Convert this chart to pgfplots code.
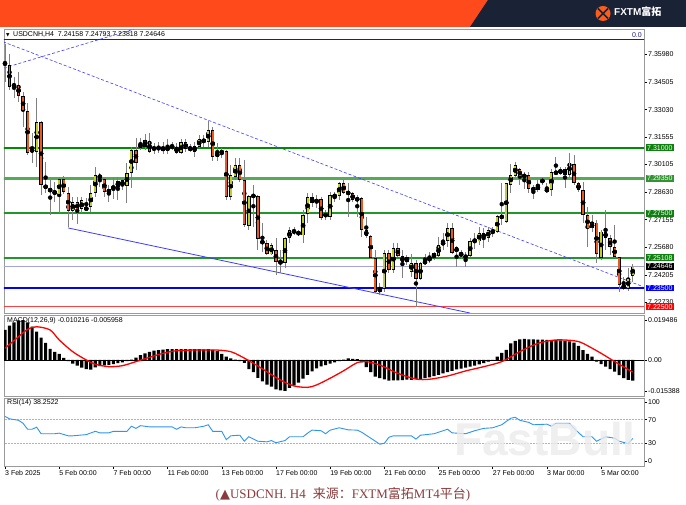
\documentclass[border=0pt]{standalone}
\usepackage{pgfplots}
\usepackage{pgfplotstable}
\pgfplotsset{compat=1.18}
\usepackage{fontspec}
\setmainfont{Liberation Sans}
\newfontfamily\cjk{Noto Sans CJK SC}
\newfontfamily\dejavu{DejaVu Sans}
\newfontfamily\serif{Liberation Serif}
\newcommand{\tk}{\fontsize{7}{8}\selectfont}

\definecolor{bull}{HTML}{BFCC2C}
\definecolor{bear}{HTML}{E8591F}
\definecolor{wick}{HTML}{808080}
\definecolor{lvlgreen}{HTML}{22962A}
\definecolor{lvlgreen2}{HTML}{55AA55}
\definecolor{boxgreen}{HTML}{0F7F0F}
\definecolor{navyline}{HTML}{1C1C8C}
\definecolor{trend}{HTML}{3C3CFF}
\definecolor{curline}{HTML}{A4A4D4}
\definecolor{rsiblue}{HTML}{2E95F0}
\definecolor{bannerorange}{HTML}{FF4A1C}
\definecolor{bannernavy}{HTML}{1A2236}
\definecolor{captioncol}{HTML}{8A3C3C}
\definecolor{framegray}{HTML}{9A9A9A}

% H4 candles, 3 Feb - 5 Mar 2025 (index, open, high, low, close)
\pgfplotstableread{
i o h l c
0 7.3558 7.3654 7.3451 7.3542
1 7.3542 7.3601 7.3408 7.3424
2 7.3430 7.3478 7.3366 7.3438
3 7.3435 7.3505 7.3344 7.3376
4 7.3376 7.3398 7.3211 7.3296
5 7.3296 7.3339 7.3061 7.3072
6 7.3088 7.3179 7.3018 7.3085
7 7.3077 7.3366 7.2997 7.3237
8 7.3237 7.3243 7.2847 7.2900
9 7.2900 7.3023 7.2858 7.2884
10 7.2884 7.2927 7.2740 7.2863
11 7.2863 7.2917 7.2810 7.2861
12 7.2852 7.2943 7.2751 7.2933
13 7.2933 7.2949 7.2852 7.2863
14 7.2858 7.2890 7.2676 7.2762
15 7.2762 7.2836 7.2713 7.2810
16 7.2810 7.2836 7.2692 7.2767
17 7.2772 7.2836 7.2751 7.2820
18 7.2772 7.2831 7.2767 7.2778
19 7.2783 7.2900 7.2756 7.2858
20 7.2858 7.2997 7.2836 7.2954
21 7.2954 7.2965 7.2890 7.2938
22 7.2933 7.2943 7.2836 7.2863
23 7.2858 7.2900 7.2810 7.2879
24 7.2884 7.2938 7.2826 7.2890
25 7.2890 7.2943 7.2820 7.2922
26 7.2927 7.2933 7.2874 7.2895
27 7.2895 7.3018 7.2804 7.2965
28 7.2965 7.3104 7.2884 7.3088
29 7.3088 7.3152 7.2981 7.3018
30 7.3104 7.3152 7.3088 7.3120
31 7.3104 7.3173 7.3088 7.3141
32 7.3136 7.3179 7.3072 7.3077
33 7.3088 7.3125 7.3066 7.3104
34 7.3093 7.3130 7.3072 7.3104
35 7.3104 7.3130 7.3066 7.3082
36 7.3082 7.3146 7.3066 7.3109
37 7.3104 7.3130 7.3088 7.3106
38 7.3104 7.3125 7.3066 7.3072
39 7.3072 7.3146 7.3066 7.3130
40 7.3130 7.3146 7.3077 7.3093
41 7.3096 7.3120 7.3077 7.3095
42 7.3077 7.3130 7.3050 7.3109
43 7.3104 7.3168 7.3099 7.3146
44 7.3146 7.3168 7.3104 7.3130
45 7.3130 7.3243 7.3104 7.3194
46 7.3194 7.3211 7.3029 7.3050
47 7.3050 7.3125 7.3029 7.3077
48 7.3072 7.3098 7.3045 7.3082
49 7.3082 7.3088 7.2820 7.2836
50 7.2836 7.3007 7.2820 7.2954
51 7.2943 7.3045 7.2927 7.3007
52 7.3007 7.3045 7.2917 7.2927
53 7.2927 7.3034 7.2676 7.2687
54 7.2681 7.2847 7.2660 7.2842
55 7.2842 7.2900 7.2676 7.2844
56 7.2842 7.2847 7.2553 7.2611
57 7.2606 7.2697 7.2542 7.2585
58 7.2590 7.2606 7.2526 7.2531
59 7.2531 7.2590 7.2526 7.2580
60 7.2553 7.2617 7.2419 7.2489
61 7.2489 7.2553 7.2430 7.2486
62 7.2484 7.2622 7.2457 7.2617
63 7.2617 7.2676 7.2590 7.2660
64 7.2660 7.2676 7.2633 7.2644
65 7.2644 7.2660 7.2628 7.2642
66 7.2633 7.2767 7.2590 7.2740
67 7.2746 7.2858 7.2697 7.2836
68 7.2836 7.2858 7.2783 7.2804
69 7.2804 7.2847 7.2778 7.2826
70 7.2826 7.2836 7.2713 7.2724
71 7.2730 7.2767 7.2713 7.2751
72 7.2730 7.2863 7.2713 7.2847
73 7.2844 7.2863 7.2810 7.2843
74 7.2842 7.2917 7.2820 7.2911
75 7.2911 7.2927 7.2852 7.2858
76 7.2858 7.2911 7.2730 7.2860
77 7.2858 7.2863 7.2810 7.2820
78 7.2820 7.2847 7.2730 7.2831
79 7.2831 7.2836 7.2622 7.2660
80 7.2660 7.2730 7.2617 7.2628
81 7.2628 7.2633 7.2505 7.2510
82 7.2510 7.2553 7.2323 7.2329
83 7.2329 7.2377 7.2313 7.2350
84 7.2345 7.2553 7.2329 7.2537
85 7.2537 7.2553 7.2430 7.2446
86 7.2446 7.2590 7.2430 7.2564
87 7.2564 7.2590 7.2516 7.2521
88 7.2521 7.2553 7.2403 7.2489
89 7.2489 7.2526 7.2473 7.2516
90 7.2436 7.2532 7.2409 7.2484
91 7.2484 7.2500 7.2249 7.2398
92 7.2398 7.2489 7.2393 7.2484
93 7.2484 7.2532 7.2473 7.2494
94 7.2494 7.2542 7.2484 7.2516
95 7.2516 7.2542 7.2500 7.2537
96 7.2521 7.2622 7.2510 7.2580
97 7.2580 7.2644 7.2553 7.2601
98 7.2601 7.2697 7.2569 7.2671
99 7.2671 7.2697 7.2532 7.2537
100 7.2569 7.2574 7.2462 7.2542
101 7.2537 7.2553 7.2505 7.2526
102 7.2518 7.2542 7.2462 7.2517
103 7.2521 7.2617 7.2516 7.2601
104 7.2601 7.2644 7.2558 7.2606
105 7.2601 7.2676 7.2580 7.2644
106 7.2644 7.2671 7.2564 7.2617
107 7.2617 7.2676 7.2596 7.2660
108 7.2644 7.2676 7.2622 7.2660
109 7.2649 7.2740 7.2644 7.2735
110 7.2735 7.2911 7.2687 7.2724
111 7.2704 7.2911 7.2699 7.2910
112 7.2904 7.3016 7.2856 7.2954
113 7.2950 7.3025 7.2945 7.3007
114 7.2984 7.2990 7.2900 7.2945
115 7.2954 7.2971 7.2882 7.2945
116 7.2954 7.2971 7.2857 7.2879
117 7.2883 7.2901 7.2829 7.2874
118 7.2874 7.2927 7.2865 7.2904
119 7.2915 7.2945 7.2900 7.2931
120 7.2883 7.2910 7.2856 7.2865
121 7.2874 7.2984 7.2842 7.2971
122 7.2971 7.3051 7.2959 7.2962
123 7.2962 7.2998 7.2954 7.2984
124 7.2985 7.2998 7.2883 7.2957
125 7.2954 7.3071 7.2945 7.3021
126 7.3012 7.3061 7.2900 7.2911
127 7.2911 7.2919 7.2865 7.2874
128 7.2874 7.2919 7.2696 7.2740
129 7.2740 7.2784 7.2571 7.2669
130 7.2669 7.2740 7.2651 7.2701
131 7.2701 7.2713 7.2482 7.2532
132 7.2509 7.2660 7.2500 7.2651
133 7.2651 7.2767 7.2554 7.2617
134 7.2617 7.2633 7.2527 7.2569
135 7.2569 7.2687 7.2510 7.2518
136 7.2515 7.2518 7.2332 7.2368
137 7.2368 7.2412 7.2340 7.2349
138 7.2344 7.2456 7.2337 7.2405
139 7.24158 7.24793 7.23818 7.24646
}\ohlc

\pgfplotsset{
  mtpanel/.style={
    scale only axis, width=640pt, anchor=north west,
    xmin=-0.2214, xmax=141.5,
    axis line style={framegray, line width=0.8pt},
    tick style={black, line width=0.5pt},
    major tick length=3pt, tick align=outside,
    ytick pos=right, yticklabel pos=right,
    yticklabel style={font=\tk, anchor=west, inner xsep=1pt},
    scaled y ticks=false,
    clip mode=individual,
  },
  lvl/.style={forget plot, line width=#1},
}

\begin{document}
\begin{tikzpicture}
\useasboundingbox (0,0) rectangle (686pt,505pt);
\fill[white] (0,0) rectangle (686pt,505pt);
% banner
\fill[bannerorange] (0,478pt) rectangle (686pt,505pt);
\fill[bannernavy] (488pt,505pt) -- (686pt,505pt) -- (686pt,478pt) -- (470pt,478pt) -- cycle;
\fill[bannerorange!90!yellow] (603pt,491.5pt) circle (7.5pt);
\draw[bannernavy, line width=1.6pt] (598pt,486.5pt) -- (608pt,496.5pt) (598pt,496.5pt) -- (608pt,486.5pt);
\node[anchor=west, text=white, inner sep=0, font=\fontsize{10}{10}\selectfont\bfseries] at (614pt,493.5pt) {FXTM{\cjk 富拓}};

% ---------------- price panel
\begin{axis}[mtpanel, at={(4pt,476pt)}, height=284pt,
  ymin=7.22163, ymax=7.37343, xtick=\empty,
  ytick={7.3598,7.34505,7.3303,7.31555,7.30105,7.2863,7.27155,7.2568,7.24205,7.2273},
  yticklabels={7.35980,7.34505,7.33030,7.31555,7.30105,7.28630,7.27155,7.25680,7.24205,7.22730}]
  % level lines
  \addplot[lvl=1.2pt, navyline] coordinates {(-1,7.3676) (142,7.3676)};
  \addplot[lvl=2pt, green!55!black] coordinates {(-1,7.31) (142,7.31)};
  \addplot[lvl=2.4pt, lvlgreen2] coordinates {(-1,7.2935) (142,7.2935)};
  \addplot[lvl=1.3pt, lvlgreen] coordinates {(-1,7.275) (142,7.275)};
  \addplot[lvl=1.3pt, lvlgreen] coordinates {(-1,7.25108) (142,7.25108)};
  \addplot[lvl=0.9pt, curline] coordinates {(-1,7.24646) (142,7.24646)};
  \addplot[lvl=1.7pt, blue] coordinates {(-1,7.235) (142,7.235)};
  \addplot[lvl=1.3pt, red!75] coordinates {(-1,7.225) (142,7.225)};
  % trend lines
  \addplot[lvl=0.6pt, trend, dash pattern=on 3pt off 2pt] coordinates {(-0.44,7.3666) (141.3,7.2357)};
  \addplot[lvl=0.6pt, trend, dash pattern=on 3pt off 2pt] coordinates {(-0.2,7.3526) (28.6,7.3734)};
  \addplot[lvl=0.8pt, trend] coordinates {(13.95,7.2671) (103,7.2216)};
  % wicks
  \addplot[only marks, mark=none, forget plot,
    error bars/.cd, y dir=both, y explicit, error mark=none,
    error bar style={draw=wick, line width=0.9pt}]
    table[x=i, y expr={(\thisrow{h}+\thisrow{l})/2}, y error expr={(\thisrow{h}-\thisrow{l})/2}] {\ohlc};
  % body outlines
  \addplot[only marks, mark=none, forget plot,
    error bars/.cd, y dir=both, y explicit, error mark=none,
    error bar style={draw=black, line width=3.3pt}]
    table[x=i, y expr={(\thisrow{o}+\thisrow{c})/2}, y error expr={max(abs(\thisrow{c}-\thisrow{o})/2,0.00025)}] {\ohlc};
  % rising bodies
  \addplot[only marks, mark=none, forget plot,
    error bars/.cd, y dir=both, y explicit, error mark=none,
    error bar style={draw=bull, line width=1.9pt}]
    table[x=i, y expr={(\thisrow{o}+\thisrow{c})/2}, y error expr={ifthenelse(\thisrow{c}>\thisrow{o},max((\thisrow{c}-\thisrow{o})/2-0.0004,0),0)}] {\ohlc};
  % falling bodies
  \addplot[only marks, mark=none, forget plot,
    error bars/.cd, y dir=both, y explicit, error mark=none,
    error bar style={draw=bear, line width=1.9pt}]
    table[x=i, y expr={(\thisrow{o}+\thisrow{c})/2}, y error expr={ifthenelse(\thisrow{c}<\thisrow{o},max((\thisrow{o}-\thisrow{c})/2-0.0004,0),0)}] {\ohlc};
  \coordinate (B1) at (axis cs:141.5,7.31);
  \coordinate (B2) at (axis cs:141.5,7.2935);
  \coordinate (B3) at (axis cs:141.5,7.275);
  \coordinate (B4) at (axis cs:141.5,7.25108);
  \coordinate (B5) at (axis cs:141.5,7.24646);
  \coordinate (B6) at (axis cs:141.5,7.235);
  \coordinate (B7) at (axis cs:141.5,7.225);
\end{axis}

% ---------------- MACD panel
\begin{axis}[mtpanel, at={(4pt,190pt)}, height=81pt,
  ymin=-0.01776, ymax=0.0222, xtick=\empty,
  ytick={-0.015388,0,0.019486}, yticklabels={-0.015388,0.00,0.019486}]
  \addplot[forget plot, ybar, bar width=0.7, fill=black, draw=none] coordinates {
  (0,0.0148) (1,0.0170) (2,0.0185) (3,0.0195) (4,0.0197) (5,0.0185) (6,0.0165) (7,0.0140)
  (8,0.0110) (9,0.0085) (10,0.0055) (11,0.0040) (12,0.0030) (13,0.0010) (14,-0.0005) (15,-0.0018)
  (16,-0.0028) (17,-0.0038) (18,-0.0045) (19,-0.0048) (20,-0.0036) (21,-0.0030) (22,-0.0026) (23,-0.0024)
  (24,-0.0020) (25,-0.0016) (26,-0.0012) (27,-0.0006) (28,0.0002) (29,0.0012) (30,0.0024) (31,0.0033)
  (32,0.0040) (33,0.0046) (34,0.0049) (35,0.0051) (36,0.0053) (37,0.0053) (38,0.0054) (39,0.0054)
  (40,0.0053) (41,0.0053) (42,0.0053) (43,0.0053) (44,0.0052) (45,0.0054) (46,0.0050) (47,0.0044)
  (48,0.0030) (49,0.0016) (50,0.0008) (51,0.0002) (52,-0.0006) (53,-0.0014) (54,-0.0045) (55,-0.0060)
  (56,-0.0088) (57,-0.0105) (58,-0.0122) (59,-0.0132) (60,-0.0145) (61,-0.0150) (62,-0.0152) (63,-0.0138)
  (64,-0.0125) (65,-0.0112) (66,-0.0092) (67,-0.0074) (68,-0.0056) (69,-0.0041) (70,-0.0032) (71,-0.0025)
  (72,-0.0018) (73,-0.0012) (74,-0.0006) (75,0.0002) (76,0.0008) (77,0.0006) (78,0.0004) (79,-0.0012)
  (80,-0.0035) (81,-0.0060) (82,-0.0082) (83,-0.0090) (84,-0.0096) (85,-0.0102) (86,-0.0100) (87,-0.0101)
  (88,-0.0099) (89,-0.0097) (90,-0.0098) (91,-0.0095) (92,-0.0093) (93,-0.0090) (94,-0.0086) (95,-0.0080)
  (96,-0.0074) (97,-0.0066) (98,-0.0060) (99,-0.0054) (100,-0.0046) (101,-0.0042) (102,-0.0038) (103,-0.0033)
  (104,-0.0028) (105,-0.0022) (106,-0.0016) (107,-0.0008) (108,0.0000) (109,0.0016) (110,0.0035) (111,0.0050)
  (112,0.0082) (113,0.0094) (114,0.0102) (115,0.0104) (116,0.0102) (117,0.0102) (118,0.0100) (119,0.0100)
  (120,0.0099) (121,0.0098) (122,0.0098) (123,0.0097) (124,0.0095) (125,0.0092) (126,0.0086) (127,0.0070)
  (128,0.0049) (129,0.0030) (130,0.0016) (131,-0.0008) (132,-0.0020) (133,-0.0033) (134,-0.0045) (135,-0.0058)
  (136,-0.0075) (137,-0.0090) (138,-0.0098) (139,-0.010216)};
  \addplot[lvl=0.8pt, black] coordinates {(-1,0) (142,0)};
  \addplot[lvl=1.3pt, red, smooth] coordinates {
  (0,0.0058) (3,0.0115) (5,0.0151) (7,0.0164) (10,0.0148) (12,0.0099) (15,0.0041) (18,0.0)
  (20,-0.0021) (23,-0.0033) (26,-0.0028) (29,-0.0008) (32,0.0013) (35,0.0033) (38,0.0046) (42,0.0049)
  (47,0.0049) (50,0.0041) (52,0.0021) (55,-0.0016) (58,-0.0058) (61,-0.0099) (64,-0.0128) (67,-0.0135)
  (69,-0.0123) (72,-0.0090) (75,-0.0053) (78,-0.0013) (80,-0.0008) (83,-0.0025) (87,-0.0066) (91,-0.0094)
  (94,-0.0095) (98,-0.0079) (102,-0.0054) (106,-0.0033) (110,-0.0008) (114,0.0041) (118,0.0082) (122,0.0099)
  (126,0.0095) (128,0.0082) (132,0.0033) (135,-0.0008) (139,-0.005958)};
\end{axis}

% ---------------- RSI panel
\begin{axis}[mtpanel, at={(4pt,107pt)}, height=68pt,
  ymin=-8.47, ymax=106.78,
  ytick={0,30,70,100}, yticklabels={0,30,70,100},
  xtick={0,12,24,36,48,60,72,84,96,108,120,132}, xtick pos=lower,
  xticklabels={3 Feb 2025,5 Feb 00:00,7 Feb 00:00,11 Feb 00:00,13 Feb 00:00,17 Feb 00:00,19 Feb 00:00,21 Feb 00:00,25 Feb 00:00,27 Feb 00:00,3 Mar 00:00,5 Mar 00:00},
  xticklabel style={font=\tk, anchor=north west, inner xsep=0pt, inner ysep=1pt}]
  \addplot[lvl=0.5pt, gray!60, densely dotted] coordinates {(-1,70) (142,70)};
  \addplot[lvl=0.5pt, gray!60, densely dotted] coordinates {(-1,30) (142,30)};
  \addplot[lvl=0.9pt, rsiblue] coordinates {
  (0,75.6) (1,71.5) (3,69) (4,63.9) (5,53.8) (6,53.8) (7,57.3) (8,46.2) (10,46.2) (11,46.2)
  (12,47.2) (14,42.7) (15,42.7) (18,44.7) (20,50.3) (21,47.7) (23,47.7) (24,50.3) (27,50.3) (28,58.9)
  (29,55.3) (30,59.9) (32,57.8) (35,57.8) (37,57.8) (38,53.8) (39,57.8) (40,56.3) (42,56.3) (44,58.9)
  (45,61.4) (46,50.3) (48,50.3) (49,36.1) (50,42.7) (52,43.7) (53,33.5) (54,41.1) (56,33.5) (58,32.5)
  (59,34.6) (60,31) (62,34.6) (63,41.1) (66,41.1) (67,47.2) (68,52.3) (70,51.3) (71,46.2) (72,52.3)
  (74,56.3) (76,52.8) (78,52.3) (79,48.7) (81,38.6) (83,28.5) (84,30) (85,40.1) (86,42.7) (90,42.7)
  (91,37.1) (92,43.7) (95,46.2) (98,53.8) (99,47.7) (102,46.2) (104,51.3) (106,55.3) (108,56.3) (110,61.4)
  (112,72.5) (113,74) (114,69) (116,65.4) (117,61.4) (120,62.4) (121,58.9) (122,63.9) (125,63.9) (126,55.3)
  (128,41.1) (130,41.1) (131,33.5) (133,41.1) (135,38.6) (136,33.5) (138,29.5) (139,38.2522)};
\end{axis}

% labels on the right scale
\tikzset{lbox/.style={anchor=west, text=white, font=\tk, inner xsep=1.5pt, inner ysep=1pt, xshift=1.5pt}}
\node[lbox, fill=boxgreen] at (B1) {7.31000};
\node[lbox, fill=boxgreen!85!white] at (B2) {7.29350};
\node[lbox, fill=boxgreen] at (B3) {7.27500};
\node[lbox, fill=boxgreen] at (B4) {7.25108};
\node[lbox, fill=black] at (B5) {7.24646};
\node[lbox, fill=blue] at (B6) {7.23500};
\node[lbox, fill=red] at (B7) {7.22500};

% panel titles
\node[anchor=west, inner sep=0] at (6pt,470pt) {\dejavu\fontsize{4.5}{5}\selectfont ▼};
\node[anchor=west, inner sep=0, font=\tk] at (13pt,470pt) {USDCNH,H4\ \ 7.24158 7.24793 7.23818 7.24646};
\node[anchor=east, inner sep=0, font=\tk, text=navyline] at (642pt,469.5pt) {0.0};
\node[anchor=west, inner sep=0, font=\tk] at (7pt,184pt) {MACD(12,26,9) -0.010216 -0.005958};
\node[anchor=west, inner sep=0, font=\tk] at (7pt,102pt) {RSI(14) 38.2522};
% watermark
\node[font=\fontsize{46}{46}\selectfont\bfseries, text=black!8, text opacity=0.8] at (545pt,66pt) {FastBull};
% caption
\node[text=captioncol, font=\fontsize{13}{14}\selectfont] at (343pt,11pt)
  {{\serif (}{\dejavu ▲}{\serif USDCNH. H4}\hspace{7pt}{\cjk 来源：}{\serif FXTM}{\cjk 富拓}{\serif MT4}{\cjk 平台}{\serif )}};
\end{tikzpicture}
\end{document}
